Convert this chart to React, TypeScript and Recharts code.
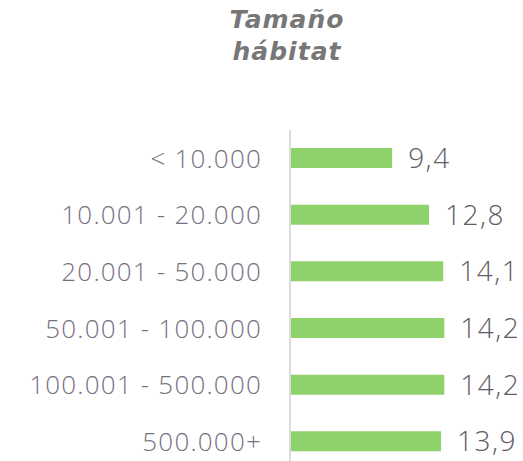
import { BarChart, Bar, XAxis, YAxis, LabelList } from "recharts";

const categories = ["< 10.000", "10.001 - 20.000", "20.001 - 50.000", "50.001 - 100.000", "100.001 - 500.000", "500.000+"];
const values = [9.4, 12.8, 14.1, 14.2, 14.2, 13.9];
const titleLines = ["Tamaño", "hábitat"];

const data = categories.map((name, i) => ({ name, value: values[i] }));

const FONT = "'Open Sans', sans-serif";

export default function App() {
  return (
    <div style={{ position: "fixed", left: 0, top: 0, width: 523, height: 461, overflow: "hidden", background: "#fff" }}>
      <div
        style={{
          position: "absolute",
          left: 167,
          top: 4,
          width: 240,
          textAlign: "center",
          fontFamily: "'DejaVu Sans', sans-serif",
          fontWeight: 700,
          fontStyle: "italic",
          fontSize: 25,
          lineHeight: "32px",
          letterSpacing: 1,
          color: "#777777",
        }}
      >
        {titleLines.map((t) => (
          <div key={t}>{t}</div>
        ))}
      </div>
      <div style={{ position: "absolute", left: 0, top: 0 }}>
        <BarChart
          width={523}
          height={480}
          data={data}
          layout="vertical"
          margin={{ top: 130, right: 70, left: 0, bottom: 10 }}
        >
          <XAxis type="number" domain={[0, 15]} hide />
          <YAxis
            type="category"
            dataKey="name"
            width={290}
            tickLine={false}
            axisLine={{ stroke: "#dcdcdc", strokeWidth: 2 }}
            tickMargin={22}
            tick={{ fill: "#77717f", fontSize: 26, fontFamily: FONT, fontWeight: 300, letterSpacing: 1.2 }}
          />
          <Bar dataKey="value" fill="#8fd16a" barSize={20} isAnimationActive={false}>
            <LabelList
              dataKey="value"
              position="right"
              offset={16}
              formatter={(v: number) => String(v).replace(".", ",")}
              style={{ fill: "#5f5a66", fontSize: 28, fontFamily: FONT, fontWeight: 300, letterSpacing: 1.5 }}
            />
          </Bar>
        </BarChart>
      </div>
    </div>
  );
}
